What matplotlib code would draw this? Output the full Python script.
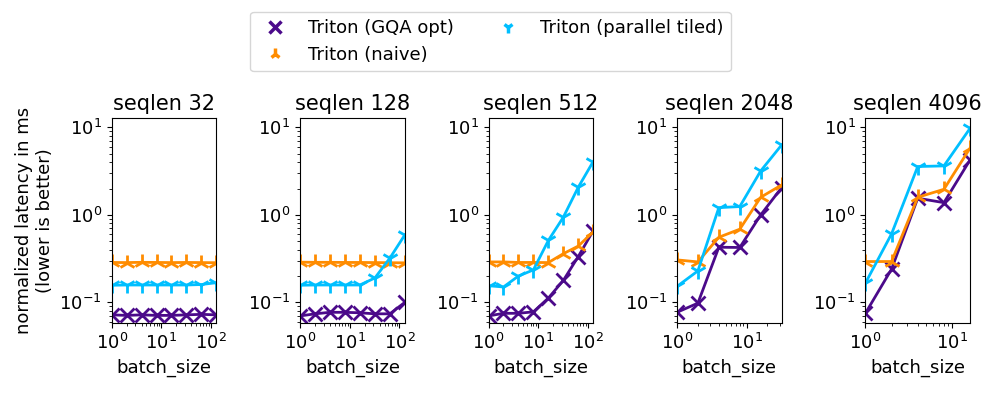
import matplotlib
matplotlib.use("Agg")
import matplotlib.pyplot as plt
from matplotlib.lines import Line2D
import numpy as np

from matplotlib import rcParams
rcParams["font.size"] = "13"

seqlens = [32, 128, 512, 2048, 4096]
batch_sizes = {
    32: [1, 2, 4, 8, 16, 32, 64, 128],
    128: [1, 2, 4, 8, 16, 32, 64, 128],
    512: [1, 2, 4, 8, 16, 32, 64, 128],
    2048: [1, 2, 4, 8, 16, 32],
    4096: [1, 2, 4, 8, 16],
}

# latency (ms)
gqa_opt = {
    32: [0.072, 0.071, 0.072, 0.071, 0.071, 0.072, 0.073, 0.072],
    128: [0.070, 0.074, 0.077, 0.077, 0.076, 0.074, 0.074, 0.100],
    512: [0.070, 0.075, 0.075, 0.078, 0.112, 0.178, 0.334, 0.66],
    2048: [0.077, 0.098, 0.427, 0.424, 1.0, 2.05],
    4096: [0.075, 0.24, 1.55, 1.38, 4.25],
}
naive = {
    32: [0.286, 0.285, 0.287, 0.286, 0.285, 0.286, 0.285, 0.284],
    128: [0.288, 0.287, 0.287, 0.286, 0.286, 0.285, 0.284, 0.283],
    512: [0.29, 0.29, 0.286, 0.286, 0.285, 0.36, 0.44, 0.64],
    2048: [0.306, 0.29, 0.555, 0.686, 1.59, 2.2],
    4096: [0.293, 0.293, 1.59, 1.96, 5.8],
}
parallel_tiled = {
    32: [0.157, 0.158, 0.158, 0.158, 0.158, 0.158, 0.160, 0.168],
    128: [0.157, 0.158, 0.158, 0.158, 0.158, 0.19, 0.32, 0.59],
    512: [0.155, 0.15, 0.2, 0.235, 0.51, 0.94, 2.07, 4.07],
    2048: [0.152, 0.229, 1.21, 1.245, 3.18, 6.3],
    4096: [0.166, 0.607, 3.57, 3.63, 9.77],
}

c_gqa = "#4b0a8a"
c_naive = "#ff8c00"
c_tiled = "#00bfff"

fig, axes = plt.subplots(1, 5, figsize=(9.97, 3.94), dpi=100)
plt.subplots_adjust(left=0.112, right=0.973, top=0.7005, bottom=0.18, wspace=0.8)

for ax, s in zip(axes, seqlens):
    bs = batch_sizes[s]
    ax.plot(bs, gqa_opt[s], color=c_gqa, marker="x", ms=10, mew=2, lw=2)
    ax.plot(bs, naive[s], color=c_naive, marker="2", ms=12, mew=2, lw=2)
    ax.plot(bs, parallel_tiled[s], color=c_tiled, marker="1", ms=12, mew=2, lw=2)
    ax.set_xscale("log")
    ax.set_yscale("log")
    ax.set_xlim(1, bs[-1])
    ax.set_ylim(0.058, 12.8)
    ax.set_title("seqlen %d" % s, fontsize=15)
    ax.set_xlabel("batch_size")

axes[0].set_ylabel("normalized latency in ms\n(lower is better)")

handles = [
    Line2D([], [], color=c_gqa, marker="x", ls="none", ms=8, mew=2.5),
    Line2D([], [], color=c_naive, marker="2", ls="none", ms=8, mew=2.5),
    Line2D([], [], color=c_tiled, marker="1", ls="none", ms=8, mew=2.5),
]
labels = ["Triton (GQA opt)", "Triton (naive)", "Triton (parallel tiled)"]
fig.legend(handles, labels, loc="upper center", bbox_to_anchor=(0.492, 0.993), ncol=2)

plt.savefig("out.png")
